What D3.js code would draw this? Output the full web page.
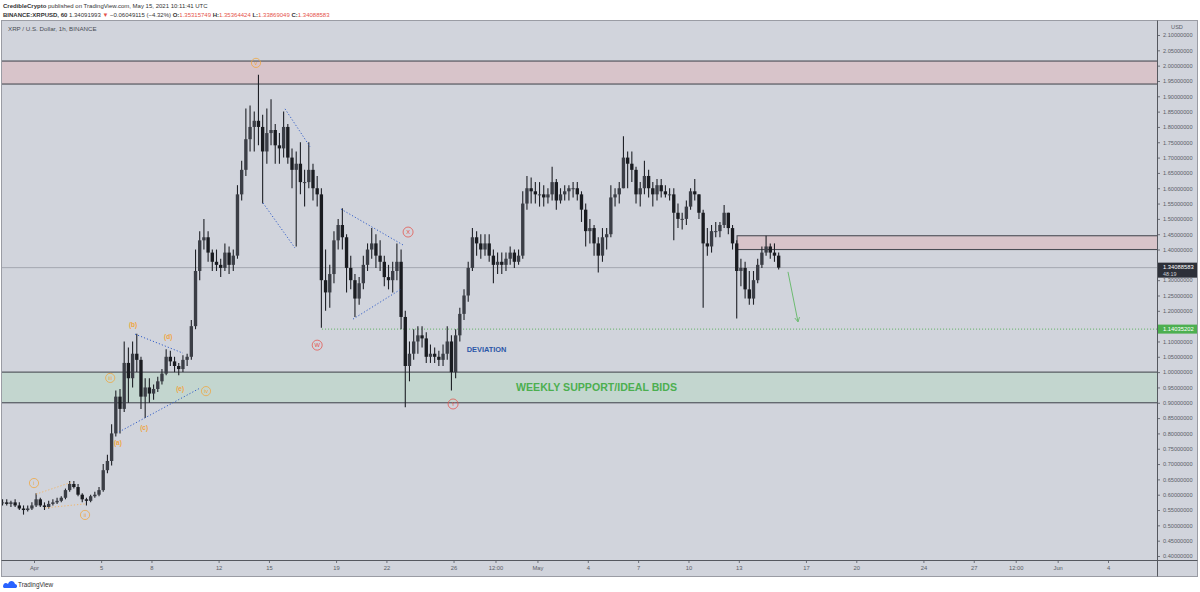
<!DOCTYPE html>
<html>
<head>
<meta charset="utf-8">
<script src="https://cdn.jsdelivr.net/npm/d3@7"></script>
<style>
  body { margin: 0; background: #fff; }
  svg text { font-family: "Liberation Sans", Arial, sans-serif; }
</style>
</head>
<body>
<svg id="chart"></svg>
<script>
// 6h candles, starting 2021-03-30 00:00 UTC
var barStart = Date.UTC(2021, 2, 30, 0);
var barStepHours = 6;
var firstOpen = 0.575;

var barHigh = [
  0.585, 0.585, 0.58, 0.585,   0.575, 0.565, 0.565, 0.575,   0.605, 0.59, 0.575, 0.58,
  0.585, 0.59, 0.595, 0.62,    0.645, 0.645, 0.635, 0.605,   0.59, 0.60, 0.61, 0.625,
  0.70, 0.73, 0.83, 0.94,      0.945, 1.10, 1.08, 1.10,      1.125, 1.05, 0.98, 0.98,
  0.96, 0.985, 1.01, 1.075,    1.07, 1.05, 1.03, 1.055,      1.06, 1.17, 1.40, 1.46,
  1.50, 1.46, 1.40, 1.40,      1.37, 1.42, 1.41, 1.40,       1.61, 1.69, 1.86, 1.87,
  1.85, 1.97, 1.84, 1.86,      1.89, 1.81, 1.78, 1.85,       1.81, 1.73, 1.72, 1.75,
  1.66, 1.75, 1.68, 1.64,      1.60, 1.40, 1.35, 1.46,       1.50, 1.535, 1.45, 1.38,
  1.32, 1.31, 1.38, 1.42,      1.47, 1.45, 1.43, 1.38,       1.35, 1.36, 1.42, 1.40,
  1.20, 1.10, 1.14, 1.15,      1.15, 1.13, 1.09, 1.08,       1.07, 1.09, 1.15, 1.12,
  1.14, 1.21, 1.27, 1.36,      1.47, 1.46, 1.45, 1.45,       1.45, 1.40, 1.39, 1.39,
  1.39, 1.41, 1.40, 1.40,      1.59, 1.64, 1.635, 1.62,      1.62, 1.61, 1.60, 1.67,
  1.63, 1.60, 1.61, 1.61,      1.62, 1.62, 1.59, 1.55,       1.50, 1.48, 1.44, 1.47,
  1.47, 1.61, 1.60, 1.62,      1.77, 1.72, 1.72, 1.67,       1.62, 1.69, 1.66, 1.62,
  1.63, 1.63, 1.61, 1.60,      1.60, 1.55, 1.52, 1.56,       1.60, 1.63, 1.58, 1.53,
  1.47, 1.48, 1.49, 1.49,      1.545, 1.52, 1.48, 1.43,      1.37, 1.36, 1.33, 1.33,
  1.37, 1.41, 1.445, 1.42,     1.42, 1.39
];
var barLow = [
  0.565, 0.565, 0.56, 0.56,    0.55, 0.535, 0.545, 0.55,     0.56, 0.56, 0.55, 0.555,
  0.565, 0.57, 0.575, 0.585,   0.61, 0.62, 0.595, 0.575,     0.565, 0.575, 0.59, 0.595,
  0.61, 0.67, 0.695, 0.79,     0.80, 0.87, 0.90, 0.95,       1.00, 0.88, 0.85, 0.90,
  0.91, 0.935, 0.96, 0.99,     1.02, 1.00, 0.99, 1.00,       1.02, 1.04, 1.14, 1.30,
  1.40, 1.36, 1.33, 1.33,      1.31, 1.33, 1.32, 1.33,       1.37, 1.56, 1.64, 1.72,
  1.72, 1.74, 1.55, 1.68,      1.74, 1.68, 1.68, 1.70,       1.68, 1.60, 1.41, 1.58,
  1.54, 1.60, 1.56, 1.54,      1.145, 1.20, 1.21, 1.29,      1.40, 1.40, 1.26, 1.27,
  1.18, 1.22, 1.27, 1.33,      1.37, 1.34, 1.33, 1.28,       1.27, 1.26, 1.30, 1.14,
  0.885, 0.97, 1.04, 1.06,     1.08, 1.03, 1.03, 1.03,       1.02, 1.02, 1.04, 0.94,
  0.98, 1.10, 1.17, 1.23,      1.33, 1.38, 1.37, 1.38,       1.36, 1.29, 1.32, 1.32,
  1.33, 1.35, 1.34, 1.35,      1.37, 1.53, 1.55, 1.55,       1.54, 1.54, 1.55, 1.56,
  1.53, 1.55, 1.56, 1.56,      1.57, 1.56, 1.49, 1.41,       1.42, 1.38, 1.325, 1.36,
  1.40, 1.44, 1.54, 1.55,      1.60, 1.60, 1.62, 1.55,       1.54, 1.58, 1.57, 1.54,
  1.56, 1.57, 1.57, 1.56,      1.43, 1.47, 1.465, 1.48,      1.53, 1.56, 1.50, 1.21,
  1.38, 1.39, 1.44, 1.44,      1.47, 1.45, 1.40, 1.175,      1.28, 1.24, 1.22, 1.22,
  1.29, 1.34, 1.38, 1.37,      1.36, 1.335
];
var barClose = [
  0.575, 0.57, 0.575, 0.565,   0.555, 0.55, 0.555, 0.565,    0.585, 0.565, 0.56, 0.57,
  0.575, 0.58, 0.59, 0.615,    0.635, 0.625, 0.60, 0.585,    0.58, 0.595, 0.60, 0.615,
  0.68, 0.71, 0.80, 0.92,      0.88, 1.03, 0.98, 1.06,       1.04, 0.92, 0.95, 0.93,
  0.945, 0.97, 0.995, 1.05,    1.035, 1.02, 1.01, 1.04,      1.05, 1.15, 1.33, 1.43,
  1.44, 1.39, 1.36, 1.35,      1.34, 1.39, 1.35, 1.38,       1.58, 1.66, 1.76, 1.80,
  1.82, 1.80, 1.72, 1.78,      1.79, 1.74, 1.73, 1.80,       1.70, 1.66, 1.68, 1.62,
  1.62, 1.66, 1.60, 1.58,      1.30, 1.26, 1.32, 1.43,       1.48, 1.44, 1.34, 1.30,
  1.24, 1.29, 1.35, 1.40,      1.42, 1.38, 1.36, 1.31,       1.30, 1.33, 1.36, 1.18,
  1.02, 1.06, 1.10, 1.12,      1.11, 1.05, 1.06, 1.05,       1.04, 1.06, 1.10, 1.00,
  1.12, 1.19, 1.25, 1.34,      1.44, 1.42, 1.40, 1.42,       1.38, 1.35, 1.36, 1.35,
  1.37, 1.39, 1.36, 1.38,      1.55, 1.60, 1.59, 1.58,       1.58, 1.57, 1.58, 1.62,
  1.56, 1.58, 1.59, 1.60,      1.60, 1.58, 1.53, 1.46,       1.47, 1.42, 1.38, 1.44,
  1.45, 1.57, 1.58, 1.60,      1.70, 1.68, 1.66, 1.58,       1.60, 1.64, 1.60, 1.58,
  1.61, 1.59, 1.58, 1.58,      1.52, 1.50, 1.50, 1.54,       1.59, 1.58, 1.52, 1.42,
  1.41, 1.46, 1.46, 1.48,      1.52, 1.47, 1.42, 1.33,       1.34, 1.27, 1.24, 1.30,
  1.35, 1.39, 1.41, 1.39,      1.38, 1.3409
];

// axis ticks (1.15 and 1.35 sit under the price tags, so they carry no label)
var priceTicks = [0.40, 0.45, 0.50, 0.55, 0.60, 0.65, 0.70, 0.75, 0.80, 0.85, 0.90, 0.95,
  1.00, 1.05, 1.10, 1.20, 1.25, 1.30, 1.40, 1.45, 1.50, 1.55, 1.60, 1.65,
  1.70, 1.75, 1.80, 1.85, 1.90, 1.95, 2.00, 2.05, 2.10];
var timeTicks = ["2021-04-01T00:00Z", "2021-04-05T00:00Z", "2021-04-08T00:00Z", "2021-04-12T00:00Z",
  "2021-04-15T00:00Z", "2021-04-19T00:00Z", "2021-04-22T00:00Z", "2021-04-26T00:00Z",
  "2021-04-28T12:00Z", "2021-05-01T00:00Z", "2021-05-04T00:00Z", "2021-05-07T00:00Z",
  "2021-05-10T00:00Z", "2021-05-13T00:00Z", "2021-05-17T00:00Z", "2021-05-20T00:00Z",
  "2021-05-24T00:00Z", "2021-05-27T00:00Z", "2021-05-29T12:00Z", "2021-06-01T00:00Z",
  "2021-06-04T00:00Z"];
var timeTickLabels = ["Apr", "5", "8", "12", "15", "19", "22", "26", "12:00", "May", "4", "7",
  "10", "13", "17", "20", "24", "27", "12:00", "Jun", "4"];

// zones [from, to, priceLow, priceHigh, kind]
var zones = [
  ["2021-03-29T00:00Z", "2021-06-10T00:00Z", 1.94, 2.015, "red"],
  ["2021-05-12T21:30Z", "2021-06-10T00:00Z", 1.40, 1.445, "red"],
  ["2021-03-29T00:00Z", "2021-06-10T00:00Z", 0.90, 1.00, "green"]
];

// wave labels [text, time, price, colour, circled]
var waveLabels = [
  ["i", "2021-04-01T00:00Z", 0.638, "orange", true],
  ["ii", "2021-04-04T01:00Z", 0.534, "orange", true],
  ["iii", "2021-04-05T13:00Z", 0.981, "orange", true],
  ["iv", "2021-04-11T06:00Z", 0.938, "orange", true],
  ["v", "2021-04-14T05:30Z", 2.009, "orange", true],
  ["(a)", "2021-04-06T00:00Z", 0.769, "orange", false],
  ["(b)", "2021-04-06T21:40Z", 1.154, "orange", false],
  ["(c)", "2021-04-07T13:30Z", 0.818, "orange", false],
  ["(d)", "2021-04-09T00:00Z", 1.115, "orange", false],
  ["(e)", "2021-04-09T17:00Z", 0.945, "orange", false],
  ["W", "2021-04-17T21:00Z", 1.088, "red", true],
  ["X", "2021-04-23T07:00Z", 1.457, "red", true],
  ["Y", "2021-04-25T23:20Z", 0.896, "red", true]
];

// dotted trend lines [t1, p1, t2, p2, colour]
var trendLines = [
  ["2021-04-01T03:00Z", 0.602, "2021-04-03T06:15Z", 0.641, "orange"],
  ["2021-04-01T16:00Z", 0.557, "2021-04-04T01:00Z", 0.570, "orange"],
  ["2021-04-07T00:30Z", 1.124, "2021-04-09T21:00Z", 1.062, "blue"],
  ["2021-04-06T01:40Z", 0.805, "2021-04-10T21:30Z", 0.948, "blue"],
  ["2021-04-14T15:30Z", 1.552, "2021-04-16T13:15Z", 1.405, "blue"],
  ["2021-04-15T23:00Z", 1.859, "2021-04-17T10:50Z", 1.735, "blue"],
  ["2021-04-19T07:00Z", 1.532, "2021-04-22T23:45Z", 1.415, "blue"],
  ["2021-04-20T00:15Z", 1.173, "2021-04-22T21:00Z", 1.271, "blue"]
];

var lastPrice = 1.34088583;
var targetLevel = 1.14035202;
var targetFrom = "2021-04-18T04:00Z";
var arrowPath = [["2021-05-15T22:20Z", 1.327], ["2021-05-16T12:40Z", 1.164]];

var colors = { orange: "#f0a53c", red: "#e5534b", blue: "#2f5fc4", green: "#4caf50" };

// layout
var W = 1200, H = 592;
var plotL = 2, plotR = 1157, plotT = 21, plotB = 560;

var svg = d3.select("#chart").attr("width", W).attr("height", H);

var x = d3.scaleUtc()
  .domain([new Date("2021-04-01T00:00Z"), new Date("2021-06-04T00:00Z")])
  .range([34, 1108]);
var y = d3.scaleLinear().domain([0.4, 2.1]).range([556, 35]);

// header
var head1 = svg.append("text").attr("x", 3).attr("y", 8).attr("font-size", 6).attr("fill", "#333");
head1.append("tspan").attr("font-weight", "bold").text("CredibleCrypto");
head1.append("tspan").text(" published on TradingView.com, May 15, 2021 10:11:41 UTC");

var head2 = svg.append("text").attr("x", 3).attr("y", 16.5).attr("font-size", 6).attr("fill", "#333");
head2.append("tspan").attr("font-weight", "bold").text("BINANCE:XRPUSD, 60");
head2.append("tspan").text(" 1.34091993 ");
head2.append("tspan").attr("fill", "#e5534b").text("▼");
head2.append("tspan").text(" \u22120.06049115 (\u22124.32%) ");
[["O:", "1.35315749"], ["H:", "1.35364424"], ["L:", "1.33869049"], ["C:", "1.34088583"]].forEach(function(p) {
  head2.append("tspan").attr("font-weight", "bold").text(p[0]);
  head2.append("tspan").attr("fill", "#e5534b").text(p[1] + " ");
});

// pane
svg.append("rect").attr("x", 1.5).attr("y", 20.5).attr("width", 1196).attr("height", 556)
  .attr("fill", "#d1d4dc").attr("stroke", "#9a9ca4").attr("stroke-width", 1);

svg.append("clipPath").attr("id", "plotclip").append("rect")
  .attr("x", plotL).attr("y", plotT).attr("width", plotR - plotL).attr("height", plotB - plotT);

var plot = svg.append("g").attr("clip-path", "url(#plotclip)");

// zones
zones.forEach(function(z) {
  var x1 = x(new Date(z[0])), x2 = x(new Date(z[1]));
  plot.append("rect")
    .attr("x", x1).attr("y", y(z[3]))
    .attr("width", x2 - x1).attr("height", y(z[2]) - y(z[3]))
    .attr("fill", z[4] === "red" ? "#d8c4ca" : "#c3d6cf")
    .attr("stroke", "#4a4d55").attr("stroke-width", 1.1);
});

// last price line
plot.append("line")
  .attr("x1", plotL).attr("x2", plotR)
  .attr("y1", y(lastPrice)).attr("y2", y(lastPrice))
  .attr("stroke", "#a4a7b0").attr("stroke-width", 1);

// target dotted line
plot.append("line")
  .attr("x1", x(new Date(targetFrom))).attr("x2", plotR)
  .attr("y1", y(targetLevel)).attr("y2", y(targetLevel))
  .attr("stroke", "#5aae5e").attr("stroke-width", 1).attr("stroke-dasharray", "1,2");

// candles
var bars = barClose.map(function(c, i) {
  var t = new Date(barStart + i * barStepHours * 3600e3);
  return { t: t, o: i === 0 ? firstOpen : barClose[i - 1], h: barHigh[i], l: barLow[i], c: c };
});
var stepPx = x(new Date(barStart + barStepHours * 3600e3)) - x(new Date(barStart));
var bodyW = stepPx * 0.8;

var candle = plot.append("g").selectAll("g").data(bars).enter().append("g");
candle.append("line")
  .attr("x1", d => x(d.t) + stepPx / 2).attr("x2", d => x(d.t) + stepPx / 2)
  .attr("y1", d => y(d.h)).attr("y2", d => y(d.l))
  .attr("stroke", "#1e2026").attr("stroke-width", 1.1);
candle.append("rect")
  .attr("x", d => x(d.t) + stepPx / 2 - bodyW / 2)
  .attr("y", d => y(Math.max(d.o, d.c)))
  .attr("width", bodyW)
  .attr("height", d => Math.max(1, Math.abs(y(d.o) - y(d.c))))
  .attr("fill", d => d.c >= d.o ? "#3b3e46" : "#1a1c21");

// trend lines
plot.append("g").selectAll("line").data(trendLines).enter().append("line")
  .attr("x1", d => x(new Date(d[0]))).attr("y1", d => y(d[1]))
  .attr("x2", d => x(new Date(d[2]))).attr("y2", d => y(d[3]))
  .attr("stroke", d => d[4] === "orange" ? "#f2b66a" : "#3560c8")
  .attr("stroke-width", 1).attr("stroke-dasharray", "1.2,2");

// arrow
var ax1 = x(new Date(arrowPath[0][0])), ay1 = y(arrowPath[0][1]);
var ax2 = x(new Date(arrowPath[1][0])), ay2 = y(arrowPath[1][1]);
plot.append("line").attr("x1", ax1).attr("y1", ay1).attr("x2", ax2).attr("y2", ay2)
  .attr("stroke", "#6dbb71").attr("stroke-width", 1);
var ang = Math.atan2(ay2 - ay1, ax2 - ax1);
[-0.5, 0.5].forEach(function(da) {
  plot.append("line").attr("x1", ax2).attr("y1", ay2)
    .attr("x2", ax2 - 5 * Math.cos(ang + da)).attr("y2", ay2 - 5 * Math.sin(ang + da))
    .attr("stroke", "#6dbb71").attr("stroke-width", 1);
});

// wave labels
var wl = plot.append("g").selectAll("g").data(waveLabels).enter().append("g")
  .attr("transform", d => "translate(" + x(new Date(d[1])) + "," + y(d[2]) + ")");
wl.filter(d => d[4]).append("circle")
  .attr("r", d => d[3] === "red" ? 5 : 4.6)
  .attr("fill", "none")
  .attr("stroke", d => colors[d[3]]).attr("stroke-width", 0.9).attr("opacity", 0.85);
wl.append("text")
  .attr("text-anchor", "middle").attr("dy", "0.35em")
  .attr("font-size", d => d[4] ? 5.8 : 6.5)
  .attr("font-weight", d => d[4] ? "normal" : "bold")
  .attr("fill", d => colors[d[3]])
  .text(d => d[0]);

// text notes
plot.append("text").attr("x", x(new Date("2021-04-27T23:20Z"))).attr("y", y(1.073))
  .attr("text-anchor", "middle").attr("dy", "0.35em")
  .attr("font-size", 7.4).attr("font-weight", "bold").attr("fill", "#2c57a8")
  .text("DEVIATION");
plot.append("text").attr("x", x(new Date("2021-05-04T12:30Z"))).attr("y", y(0.95))
  .attr("text-anchor", "middle").attr("dy", "0.36em")
  .attr("font-size", 10.6).attr("font-weight", "bold").attr("fill", "#4caf50")
  .attr("textLength", 161).attr("lengthAdjust", "spacingAndGlyphs")
  .text("WEEKLY SUPPORT/IDEAL BIDS");

svg.append("text").attr("x", 8).attr("y", 31).attr("font-size", 6.2).attr("fill", "#4a4d55")
  .text("XRP / U.S. Dollar, 1h, BINANCE");

// price axis
var yAxis = d3.axisRight(y).tickValues(priceTicks).tickSize(3).tickPadding(3)
  .tickFormat(d3.format(".8f"));
var yg = svg.append("g").attr("transform", "translate(" + plotR + ",0)").call(yAxis);
yg.select(".domain").remove();
yg.selectAll("line").attr("stroke", "#6c6f78");
yg.selectAll("text").attr("font-size", 5.6).attr("fill", "#5b5e67")
  .attr("font-family", "'Liberation Sans', Arial, sans-serif");
svg.append("line").attr("x1", plotR + 0.5).attr("x2", plotR + 0.5).attr("y1", 20.5).attr("y2", 576.5)
  .attr("stroke", "#55585f").attr("stroke-width", 1);
svg.append("text").attr("x", 1177).attr("y", 28.5).attr("text-anchor", "middle")
  .attr("font-size", 5.6).attr("fill", "#5b5e67").text("USD");

// time axis
var xAxis = d3.axisBottom(x).tickValues(timeTicks.map(d => new Date(d))).tickSize(3).tickPadding(3)
  .tickFormat((d, i) => timeTickLabels[i]);
var xg = svg.append("g").attr("transform", "translate(0," + plotB + ")").call(xAxis);
xg.select(".domain").remove();
xg.selectAll("line").attr("stroke", "#6c6f78");
xg.selectAll("text").attr("font-size", 5.8).attr("fill", "#5b5e67")
  .attr("font-family", "'Liberation Sans', Arial, sans-serif");
svg.append("line").attr("x1", 1.5).attr("x2", 1197.5).attr("y1", plotB + 0.5).attr("y2", plotB + 0.5)
  .attr("stroke", "#55585f").attr("stroke-width", 1);

// price tags
var tag1 = svg.append("g").attr("transform", "translate(" + (plotR + 1) + "," + y(lastPrice) + ")");
tag1.append("rect").attr("x", 0).attr("y", -5).attr("width", 39).attr("height", 15).attr("fill", "#2d3039");
tag1.append("text").attr("x", 5).attr("y", 1.6).attr("font-size", 5.8).attr("fill", "#fff").text("1.34088583");
tag1.append("text").attr("x", 5).attr("y", 8.4).attr("font-size", 5.4).attr("fill", "#c9ccd4").text("48:19");

var tag2 = svg.append("g").attr("transform", "translate(" + (plotR + 1) + "," + y(targetLevel) + ")");
tag2.append("rect").attr("x", 0).attr("y", -4.5).attr("width", 39).attr("height", 9).attr("fill", "#4caf50");
tag2.append("text").attr("x", 5).attr("y", 2).attr("font-size", 5.8).attr("fill", "#fff").text("1.14035202");

// footer logo
var logo = svg.append("g").attr("transform", "translate(3,579)");
logo.append("path").attr("d", "M0,8 C0,4 3,3 5,5 C6,1 11,1 12,5 C14,5 15,8 13,9 L1,9 Z").attr("fill", "#2962ff");
logo.append("text").attr("x", 15).attr("y", 7.5).attr("font-size", 6.4).attr("fill", "#333").text("TradingView");
</script>
</body>
</html>
